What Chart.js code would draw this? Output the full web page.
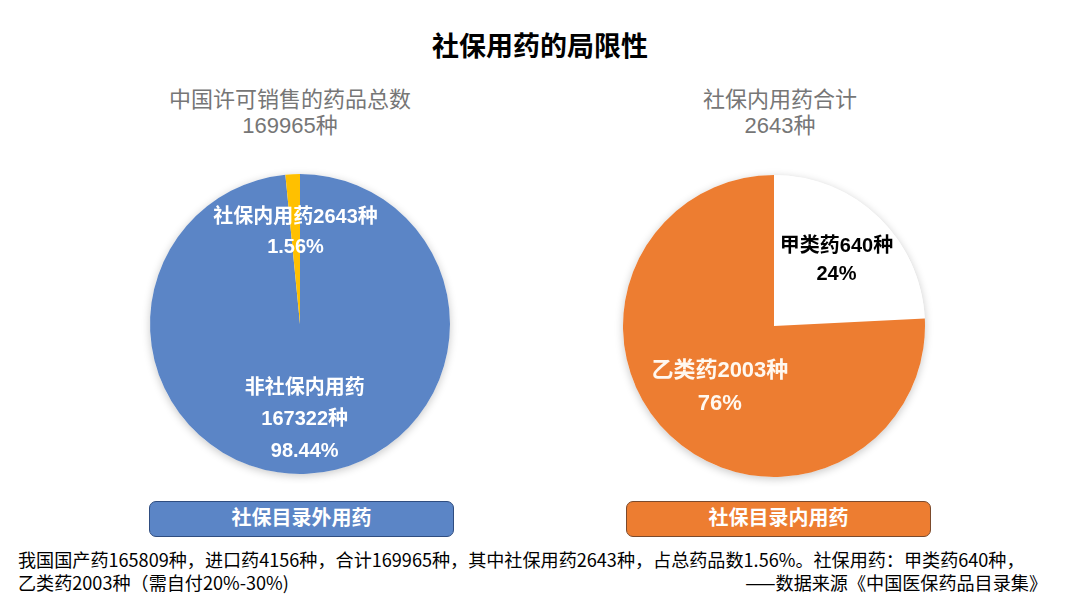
<!DOCTYPE html>
<html>
<head>
<meta charset="utf-8">
<script src="https://cdn.jsdelivr.net/npm/chart.js"></script>
<style>
  html,body{margin:0;padding:0;background:#fff;}
  body{width:1080px;height:610px;position:relative;overflow:hidden;
       font-family:"Liberation Sans","Noto Sans CJK SC",sans-serif;}
  .abs{position:absolute;}
  #title{left:0;width:1080px;top:30px;text-align:center;font-weight:bold;font-size:27px;line-height:34px;color:#000;}
  .sub{font-size:22px;line-height:26px;color:#767676;text-align:center;width:400px;}
  .btn{box-sizing:border-box;height:36px;border-radius:7px;color:#fff;font-weight:bold;font-size:20px;
       line-height:33px;text-align:center;}
  #foot{left:18px;top:548px;width:1050px;font-family:"Noto Sans CJK SC",sans-serif;font-size:18.1px;line-height:23px;color:#000;white-space:nowrap;}
  #src{right:33px;top:571px;font-family:"Noto Sans CJK SC",sans-serif;font-size:18.1px;line-height:23px;color:#000;white-space:nowrap;}
</style>
</head>
<body>
<div id="title" class="abs">社保用药的局限性</div>
<div class="abs sub" style="left:90px;top:87px;">中国许可销售的药品总数<br>169965种</div>
<div class="abs sub" style="left:580px;top:87px;">社保内用药合计<br>2643种</div>

<div class="abs" style="left:140px;top:164px;width:320px;height:320px;"><canvas id="leftPie"></canvas></div>
<div class="abs" style="left:613px;top:165px;width:322px;height:322px;"><canvas id="rightPie"></canvas></div>

<div class="abs btn" style="left:149px;top:501px;width:305px;background:#5b85c6;border:1.5px solid #2f4d80;">社保目录外用药</div>
<div class="abs btn" style="left:626px;top:501px;width:305px;background:#ed7d31;border:1.5px solid #7b4a2c;">社保目录内用药</div>

<div id="foot" class="abs">我国国产药165809种，进口药4156种，合计169965种，其中社保用药2643种，占总药品数1.56%。社保用药：甲类药640种，<br>乙类药2003种（需自付20%-30%)</div>
<div id="src" class="abs">——数据来源《中国医保药品目录集》</div>

<script>
// ---- data ----
const leftCategories = ['非社保内用药', '社保内用药'];
const leftValues = [167322, 2643];
const leftColors = ['#5b85c6', '#ffc000'];
const leftSliceLabels = [['非社保内用药', '167322种', '98.44%'], ['社保内用药2643种', '1.56%']];

const rightCategories = ['甲类药', '乙类药'];
const rightValues = [640, 2003];
const rightColors = ['#ffffff', '#ed7d31'];
const rightSliceLabels = [['甲类药640种', '24%'], ['乙类药2003种', '76%']];

// ---- plugin: shadow disc + slice labels ----
const sliceLabelPlugin = {
  id: 'sliceLabels',
  beforeDatasetsDraw(chart) {
    const arc = chart.getDatasetMeta(0).data[0];
    if (!arc) return;
    const ctx = chart.ctx;
    ctx.save();
    ctx.shadowColor = 'rgba(0,0,0,0.22)';
    ctx.shadowBlur = 9;
    ctx.shadowOffsetY = 2;
    ctx.beginPath();
    ctx.arc(arc.x, arc.y, arc.outerRadius, 0, Math.PI * 2);
    ctx.fillStyle = '#ffffff';
    ctx.fill();
    ctx.restore();
  },
  afterDatasetsDraw(chart, args, opts) {
    const ctx = chart.ctx;
    const meta = chart.getDatasetMeta(0);
    meta.data.forEach((arc, i) => {
      const it = opts.items[i];
      const mid = (arc.startAngle + arc.endAngle) / 2;
      const r = arc.outerRadius * it.frac;
      const cx = arc.x + Math.cos(mid) * r;
      const cy = arc.y + Math.sin(mid) * r + (it.dy || 0);
      const lines = opts.texts[i];
      ctx.save();
      ctx.font = 'bold ' + it.size + 'px "Liberation Sans","Noto Sans CJK SC",sans-serif';
      ctx.fillStyle = it.color;
      ctx.textAlign = 'center';
      ctx.textBaseline = 'middle';
      const n = lines.length;
      lines.forEach((t, k) => {
        ctx.fillText(t, cx, cy + (k - (n - 1) / 2) * it.lh);
      });
      ctx.restore();
    });
  }
};

function makePie(id, labels, values, colors, texts, items) {
  new Chart(document.getElementById(id), {
    type: 'pie',
    data: { labels: labels, datasets: [{ data: values, backgroundColor: colors, borderWidth: 0 }] },
    options: {
      responsive: true, maintainAspectRatio: false, animation: false,
      rotation: 0,
      layout: { padding: 10 },
      plugins: {
        legend: { display: false }, tooltip: { enabled: false },
        sliceLabels: { texts: texts, items: items }
      }
    },
    plugins: [sliceLabelPlugin]
  });
}

makePie('leftPie', leftCategories, leftValues, leftColors, leftSliceLabels,
  [{ frac: 0.64, lh: 31.5, size: 20, color: '#ffffff' }, { frac: 0.61, lh: 30, size: 20, color: '#ffffff' }]);
makePie('rightPie', rightCategories, rightValues, rightColors, rightSliceLabels,
  [{ frac: 0.60, lh: 28, size: 20, color: '#000000' }, { frac: 0.52, lh: 33, size: 22, color: '#fff8f0', dy: 5 }]);
</script>
</body>
</html>
